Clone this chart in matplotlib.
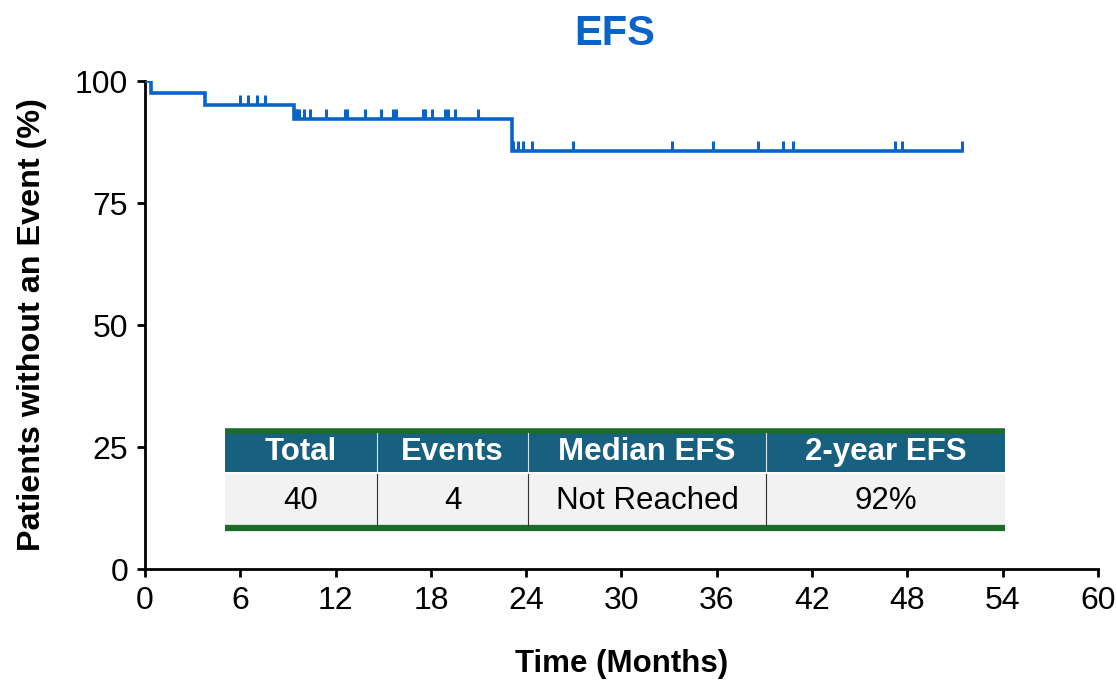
import numpy as np
import matplotlib
matplotlib.use("Agg")
import matplotlib.pyplot as plt
from matplotlib import markers
from matplotlib.patches import Rectangle
from matplotlib.lines import Line2D

plt.rcParams['font.family'] = ['Liberation Sans', 'DejaVu Sans']

# Event and censoring times (months)
event_times = [0.38, 3.80, 9.38, 23.09]
censor_times = [5.98, 6.50, 7.03, 7.56,
                9.48, 9.60, 9.70, 9.98, 10.39, 11.40, 12.59, 12.72, 13.85,
                14.86, 15.62, 15.81, 17.49, 17.65, 18.07, 18.89, 19.08,
                19.52, 20.95,
                23.19, 23.51, 23.82, 24.35, 26.93, 33.21, 35.79, 38.58,
                40.16, 40.79, 47.23, 47.69, 51.43]

x_ticks = [0, 6, 12, 18, 24, 30, 36, 42, 48, 54, 60]
y_ticks = [0, 25, 50, 75, 100]

table_headers = ["Total", "Events", "Median EFS", "2-year EFS"]
table_values = ["40", "4", "Not Reached", "92%"]

BLUE = "#0A64C8"
TEAL = "#17607F"
GREEN = "#1D6B2B"
GRAY = "#F2F2F2"


def kaplan_meier(events, censors):
    times = sorted(set(events) | set(censors))
    n = len(events) + len(censors)
    s = 1.0
    step_t, step_s = [0.0], [1.0]
    cens_t, cens_s = [], []
    for t in times:
        d = events.count(t)
        c = censors.count(t)
        if d:
            s *= (1 - d / n)
            step_t.append(t)
            step_s.append(s)
        if c:
            cens_t += [t] * c
            cens_s += [s] * c
        n -= d + c
    step_t.append(max(times))
    step_s.append(s)
    return np.array(step_t), np.array(step_s) * 100, np.array(cens_t), np.array(cens_s) * 100


st, ss, ct, cs = kaplan_meier(event_times, censor_times)

fig = plt.figure(figsize=(11.17, 6.83), dpi=100)
ax = fig.add_axes([0.1298, 0.1669, 0.8532, 0.7145])

ax.step(st, ss, where="post", color=BLUE, lw=2.6, solid_joinstyle="miter", zorder=3)
ax.plot(ct, cs, linestyle="none", marker=markers.TICKUP, markersize=7.5,
        markeredgewidth=2.2, color=BLUE, zorder=3)

ax.set_xlim(0, 60)
ax.set_ylim(0, 100)
ax.set_xticks(x_ticks)
ax.set_yticks(y_ticks)
ax.tick_params(axis="both", direction="out", length=6, width=2.0,
               labelsize=23, pad=6, color="black")
for side in ("top", "right"):
    ax.spines[side].set_visible(False)
for side in ("left", "bottom"):
    ax.spines[side].set_linewidth(2.0)
ax.spines["left"].set_bounds(0, 100)

ax.set_xlabel("Time (Months)", fontsize=22.5, fontweight="bold", labelpad=24)
ax.set_ylabel("Patients without an Event (%)", fontsize=23.3, fontweight="bold", labelpad=20)
ax.set_title("EFS", fontsize=30, fontweight="bold", color=BLUE, pad=26, x=0.493)

# Summary table drawn inside the axes
col_edges = [0.0839, 0.2434, 0.4019, 0.6516, 0.9024]
head_top, head_bot = 0.2787, 0.1988
body_top, body_bot = 0.1947, 0.0902
tr = ax.transAxes

ax.add_patch(Rectangle((col_edges[0], head_bot), col_edges[-1] - col_edges[0],
                       head_top - head_bot, transform=tr, facecolor=TEAL,
                       edgecolor="none", zorder=4))
ax.add_patch(Rectangle((col_edges[0], body_bot), col_edges[-1] - col_edges[0],
                       body_top - body_bot, transform=tr, facecolor=GRAY,
                       edgecolor="none", zorder=4))
ax.add_line(Line2D([col_edges[0], col_edges[-1]], [head_top + 0.004] * 2, transform=tr,
                   color=GREEN, lw=4, solid_capstyle="butt", zorder=5))
ax.add_line(Line2D([col_edges[0], col_edges[-1]], [body_bot - 0.007] * 2, transform=tr,
                   color=GREEN, lw=4.5, solid_capstyle="butt", zorder=5))
for xe in col_edges[1:-1]:
    ax.add_line(Line2D([xe, xe], [head_bot, head_top], transform=tr,
                       color="#D8E2EA", lw=0.8, zorder=5))
    ax.add_line(Line2D([xe, xe], [body_bot, body_top], transform=tr,
                       color="#333333", lw=0.8, zorder=5))

for i, (h, v) in enumerate(zip(table_headers, table_values)):
    xc = (col_edges[i] + col_edges[i + 1]) / 2
    ax.text(xc, (head_top + head_bot) / 2, h, transform=tr, ha="center", va="center",
            fontsize=22.5, fontweight="bold", color="white", zorder=6)
    ax.text(xc, (body_top + body_bot) / 2 - 0.003, v, transform=tr, ha="center", va="center",
            fontsize=22.5, color="black", zorder=6)

fig.savefig("out.png", dpi=100)
